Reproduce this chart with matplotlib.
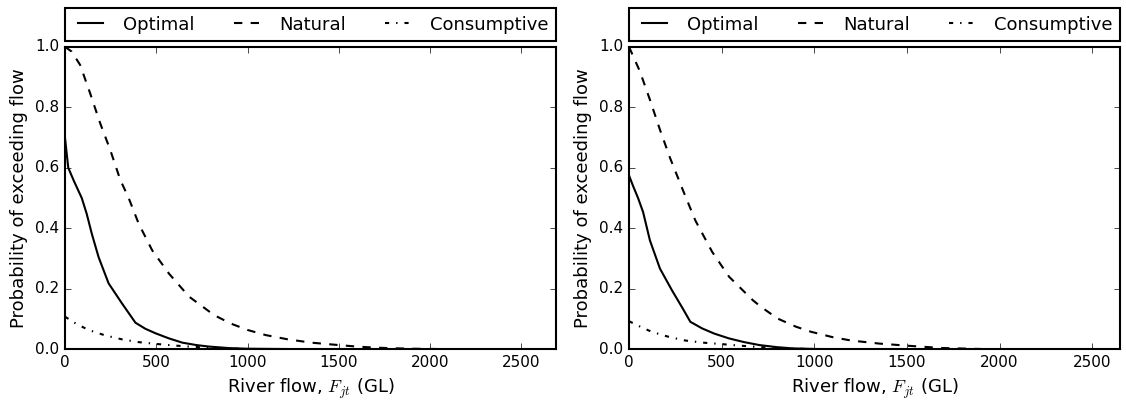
import numpy as np
import matplotlib
matplotlib.use('Agg')
import matplotlib.pyplot as plt

plt.style.use('classic')
plt.rcParams['figure.facecolor'] = 'white'
plt.rcParams['savefig.facecolor'] = 'white'
plt.rcParams['mathtext.fontset'] = 'cm'
plt.rcParams['font.family'] = 'DejaVu Sans'

# left panel
opt_x_L = [0, 18, 50, 92, 119, 147, 184, 239, 312, 386, 440, 496, 570, 643, 720, 790, 900, 993, 1200, 1500, 2690]
opt_y_L = [0.70, 0.60, 0.555, 0.50, 0.448, 0.382, 0.305, 0.218, 0.152, 0.088, 0.068, 0.053, 0.036, 0.022,
           0.014, 0.009, 0.004, 0.002, 0.001, 0.0, 0.0]
nat_x_L = [0, 37, 83, 138, 193, 248, 303, 349, 404, 478, 570, 680, 743, 817, 909, 1000, 1100, 1220, 1350,
           1500, 1600, 1702, 1800, 1903, 2030, 2200, 2690]
nat_y_L = [1.0, 0.984, 0.94, 0.846, 0.747, 0.659, 0.56, 0.50, 0.415, 0.327, 0.25, 0.174, 0.146, 0.113, 0.085,
           0.064, 0.047, 0.033, 0.022, 0.014, 0.009, 0.0055, 0.0035, 0.002, 0.001, 0.0, 0.0]
con_x_L = [0, 60, 129, 220, 312, 400, 496, 590, 680, 770, 864, 1000, 1200, 2690]
con_y_L = [0.108, 0.085, 0.064, 0.046, 0.033, 0.024, 0.018, 0.013, 0.009, 0.006, 0.003, 0.001, 0.0, 0.0]

# right panel
opt_x_R = [0, 22, 49, 76, 113, 167, 231, 290, 331, 395, 460, 540, 620, 704, 800, 885, 1013, 1200, 1500, 2650]
opt_y_R = [0.575, 0.54, 0.50, 0.454, 0.36, 0.267, 0.196, 0.135, 0.091, 0.069, 0.052, 0.036, 0.024, 0.014,
           0.007, 0.003, 0.001, 0.0005, 0.0, 0.0]
nat_x_R = [0, 58, 113, 167, 222, 295, 358, 449, 540, 667, 711, 801, 900, 982, 1100, 1199, 1350, 1500, 1686,
           1903, 2050, 2200, 2650]
nat_y_R = [1.0, 0.92, 0.825, 0.726, 0.632, 0.52, 0.426, 0.322, 0.24, 0.163, 0.141, 0.102, 0.075, 0.058, 0.040,
           0.029, 0.019, 0.012, 0.0044, 0.001, 0.0, 0.0, 0.0]
con_x_R = [0, 60, 122, 210, 304, 400, 485, 580, 667, 770, 885, 1000, 1200, 2650]
con_y_R = [0.093, 0.075, 0.058, 0.042, 0.029, 0.022, 0.018, 0.013, 0.009, 0.005, 0.002, 0.001, 0.0, 0.0]

labels = ['Optimal', 'Natural', 'Consumptive']
x_max = [2690, 2650]

panels = [
  [(opt_x_L, opt_y_L), (nat_x_L, nat_y_L), (con_x_L, con_y_L)],
  [(opt_x_R, opt_y_R), (nat_x_R, nat_y_R), (con_x_R, con_y_R)],
]
styles = ['-', '--', '-.']

fig = plt.figure(figsize=(11.26, 4.05), dpi=100)
rects = [[0.0577, 0.1375, 0.4361, 0.747], [0.5586, 0.1375, 0.4361, 0.747]]

for k, series in enumerate(panels):
  ax = fig.add_axes(rects[k])
  for (xs, ys), ls, lab in zip(series, styles, labels):
    ax.plot(xs, ys, ls, color='k', lw=1.5, label=lab)
  ax.set_xlim(0, x_max[k])
  ax.set_ylim(0, 1)
  ax.set_xticks([0, 500, 1000, 1500, 2000, 2500])
  ax.set_yticks([0.0, 0.2, 0.4, 0.6, 0.8, 1.0])
  ax.tick_params(labelsize=11)
  for sp in ax.spines.values():
    sp.set_linewidth(1.5)
  ax.set_xlabel(r'River flow, $F_{jt}$ (GL)', fontsize=13)
  ax.set_ylabel('Probability of exceeding flow', fontsize=13)
  leg = ax.legend(bbox_to_anchor=(0., 1.02, 1., 0.102), loc='lower left', ncol=3,
                  mode='expand', borderaxespad=0., fontsize=13)
  leg.get_frame().set_linewidth(1.5)

plt.savefig('out.png', dpi=100)
